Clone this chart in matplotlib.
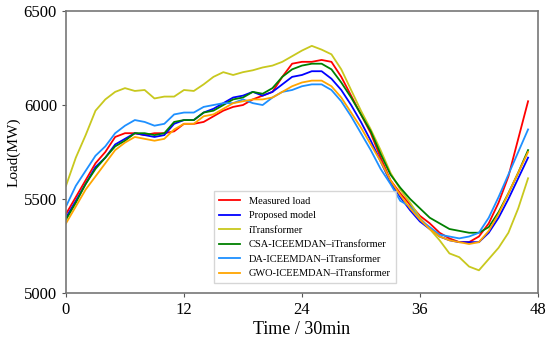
import numpy as np
import matplotlib
matplotlib.use('Agg')
import matplotlib.pyplot as plt

plt.rcParams['font.family'] = ['Liberation Serif', 'DejaVu Serif']

t = np.arange(48)

measured = [5420, 5510, 5600, 5690, 5750, 5830, 5850, 5850, 5840, 5850, 5850, 5860,
            5900, 5900, 5910, 5940, 5970, 5990, 6000, 6030, 6050, 6070, 6150, 6220,
            6230, 6230, 6240, 6230, 6150, 6050, 5950, 5850, 5720, 5600, 5530, 5470,
            5410, 5370, 5320, 5290, 5270, 5270, 5300, 5370, 5480, 5620, 5820, 6020]
proposed = [5400, 5490, 5580, 5670, 5720, 5790, 5820, 5850, 5840, 5830, 5840, 5900,
            5920, 5920, 5960, 5980, 6010, 6040, 6050, 6070, 6050, 6070, 6110, 6150,
            6160, 6180, 6180, 6140, 6080, 6000, 5910, 5810, 5700, 5590, 5510, 5440,
            5380, 5340, 5300, 5280, 5270, 5270, 5270, 5320, 5400, 5500, 5610, 5720]
itrans = [5570, 5720, 5840, 5970, 6030, 6070, 6090, 6075, 6080, 6035, 6045, 6045,
          6080, 6075, 6110, 6150, 6175, 6160, 6175, 6185, 6200, 6210, 6230, 6260,
          6290, 6315, 6295, 6270, 6190, 6080, 5970, 5870, 5760, 5640, 5550, 5480,
          5400, 5340, 5280, 5210, 5190, 5140, 5120, 5180, 5240, 5320, 5450, 5610]
csa = [5390, 5480, 5580, 5660, 5720, 5780, 5810, 5850, 5850, 5840, 5850, 5910,
       5920, 5920, 5960, 5970, 6000, 6030, 6040, 6070, 6060, 6090, 6150, 6190,
       6210, 6220, 6220, 6190, 6120, 6040, 5950, 5860, 5740, 5630, 5560, 5500,
       5450, 5400, 5370, 5340, 5330, 5320, 5320, 5350, 5430, 5530, 5640, 5760]
da = [5460, 5570, 5650, 5730, 5780, 5850, 5890, 5920, 5910, 5890, 5900, 5950,
      5960, 5960, 5990, 6000, 6010, 6010, 6030, 6010, 6000, 6040, 6070, 6080,
      6100, 6110, 6110, 6080, 6020, 5940, 5850, 5760, 5660, 5580, 5490, 5460,
      5390, 5350, 5310, 5300, 5290, 5300, 5320, 5400, 5510, 5630, 5750, 5870]
gwo = [5370, 5460, 5550, 5620, 5690, 5760, 5800, 5830, 5820, 5810, 5820, 5870,
       5900, 5900, 5940, 5950, 5980, 6010, 6020, 6030, 6030, 6040, 6070, 6100,
       6120, 6130, 6130, 6100, 6040, 5960, 5880, 5790, 5700, 5600, 5520, 5450,
       5390, 5340, 5300, 5280, 5270, 5260, 5270, 5330, 5420, 5530, 5640, 5750]

fig = plt.figure(figsize=(5.5, 3.37), dpi=100)
ax = fig.add_axes([0.12, 0.131, 0.858, 0.836])

lw = 1.3
ax.plot(t, measured, color='red', lw=lw, label='Measured load')
ax.plot(t, proposed, color='blue', lw=lw, label='Proposed model')
ax.plot(t, itrans, color='#c8c81e', lw=lw, label='iTransformer')
ax.plot(t, csa, color='green', lw=lw, label='CSA-ICEEMDAN\u2013iTransformer')
ax.plot(t, da, color='#1e90ff', lw=lw, label='DA-ICEEMDAN\u2013iTransformer')
ax.plot(t, gwo, color='orange', lw=lw, label='GWO-ICEEMDAN\u2013iTransformer')

ax.set_xlim(0, 48)
ax.set_ylim(5000, 6500)
ax.set_xticks([0, 12, 24, 36, 48])
ax.set_yticks([5000, 5500, 6000, 6500])
ax.tick_params(labelsize=12, length=3, color='#555555')
for s in ax.spines.values():
    s.set_color('#777777')
    s.set_linewidth(1.2)

ax.set_xlabel('Time / 30min', fontsize=13, labelpad=2)
ax.set_ylabel('Load(MW)', fontsize=11, labelpad=2)

ax.legend(loc='lower left', bbox_to_anchor=(0.303, 0.015), fontsize=7.5,
          handlelength=2.0, labelspacing=0.5, borderpad=0.5, fancybox=False)

fig.savefig('out.png', dpi=100)
